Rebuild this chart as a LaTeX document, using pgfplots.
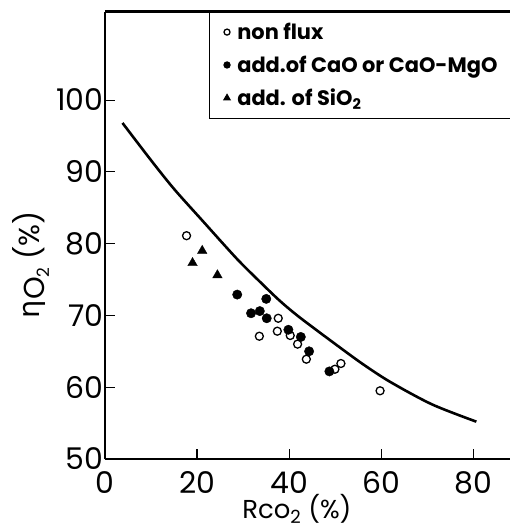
\documentclass[border=0pt]{standalone}
\usepackage{pgfplots}
\pgfplotsset{compat=1.18}
\usepackage{fontspec}
\setmainfont{Poppins}
\newfontfamily\greekfont{DejaVu Sans}
\pgfplotsset{
  legimgA/.style={legend image code/.code={\draw[##1, mark size=3bp] plot coordinates {(0,0)};}},
  legimgB/.style={legend image code/.code={\draw[##1, mark size=3.2bp] plot coordinates {(0,0)};}},
  legimgC/.style={legend image code/.code={\draw[##1, mark size=3.8bp] plot coordinates {(0,0)};}},
}
\begin{document}
\begin{tikzpicture}
\begin{axis}[
  name=ax, at={(0,0)}, anchor=south west,
  scale only axis,
  width=405bp, height=447.3bp,
  xmin=0, xmax=87.9, ymin=50, ymax=112.3,
  axis x line*=bottom, axis y line*=left,
  axis line style={line width=2.4bp},
  tick align=inside,
  major tick length=10bp,
  xtick={0,20,40,60,80},
  ytick={50,60,70,80,90,100},
  xtick style={line width=1.3bp, black},
  ytick style={line width=1bp, black},
  /pgf/number format/assume math mode=true,
  ticklabel style={font=\fontsize{30}{34}\selectfont},
  yticklabel style={xshift=2bp},
  xticklabel style={yshift=-9bp},
  xlabel={Rco\textsubscript{2} (\%)},
  ylabel={{\greekfont η}\raisebox{-0.3ex}{O\raisebox{-0.35ex}{\fontsize{17}{18}\selectfont 2}} (\%)},
  xlabel style={at={(axis description cs:0.474,-0.111)}, anchor=center, font=\fontsize{26}{29}\selectfont},
  ylabel style={at={(axis description cs:-0.182,0.434)}, anchor=center, font=\fontsize{29}{32}\selectfont},
  clip=false,
  legend cell align=left,
  legend style={at={(axis description cs:0.2575,1)}, anchor=north west,
    draw=black, line width=0.9bp, inner xsep=14bp, inner ysep=10bp,
    font=\fontsize{21}{24}\selectfont\bfseries,
    /tikz/column sep=6bp, /tikz/row sep=13bp,
    nodes={inner sep=1bp}},
]
\addplot[only marks, mark=*, mark size=4bp, mark options={fill=white, draw=black, line width=1.3bp}, legimgA]
  coordinates {
  (17.7,81.1) (33.5,67.1) (37.6,69.6) (37.4,67.8) (40.2,67.2)
  (41.8,66.0) (43.7,63.9) (49.9,62.5) (51.2,63.3) (59.7,59.5)
};
\addlegendentry{non flux}
\addplot[only marks, mark=*, mark size=4.7bp, mark options={fill=black, draw=black}, legimgB]
  coordinates {
  (28.7,72.9) (35.0,72.3) (31.7,70.3) (33.6,70.6) (35.1,69.6)
  (39.8,68.0) (42.5,67.0) (44.3,65.0) (48.7,62.2)
};
\addlegendentry{add.of CaO or CaO-MgO}
\addplot[only marks, mark=triangle*, mark size=5.5bp, mark options={fill=black, draw=black}, legimgC]
  coordinates {
  (19.0,77.3) (21.1,79.0) (24.4,75.6)
};
\addlegendentry{add. of SiO\textsubscript{2}}
\addplot[black, line width=2.6bp, smooth, forget plot] coordinates {
  (3.8,96.8) (10,91.6) (15,87.6) (21,83.3) (28.6,77.9) (33.6,74.7)
  (38,72.0) (42.3,69.7) (50,66.0) (56,63.2) (62,60.7) (71,57.6) (80.6,55.2)
};
\end{axis}
\draw[line width=2.4bp] (ax.north west) -- (ax.north east);
\pgfresetboundingbox
\path[use as bounding box] (-105bp,-72bp) rectangle (405bp,459bp);
\end{tikzpicture}
\end{document}
